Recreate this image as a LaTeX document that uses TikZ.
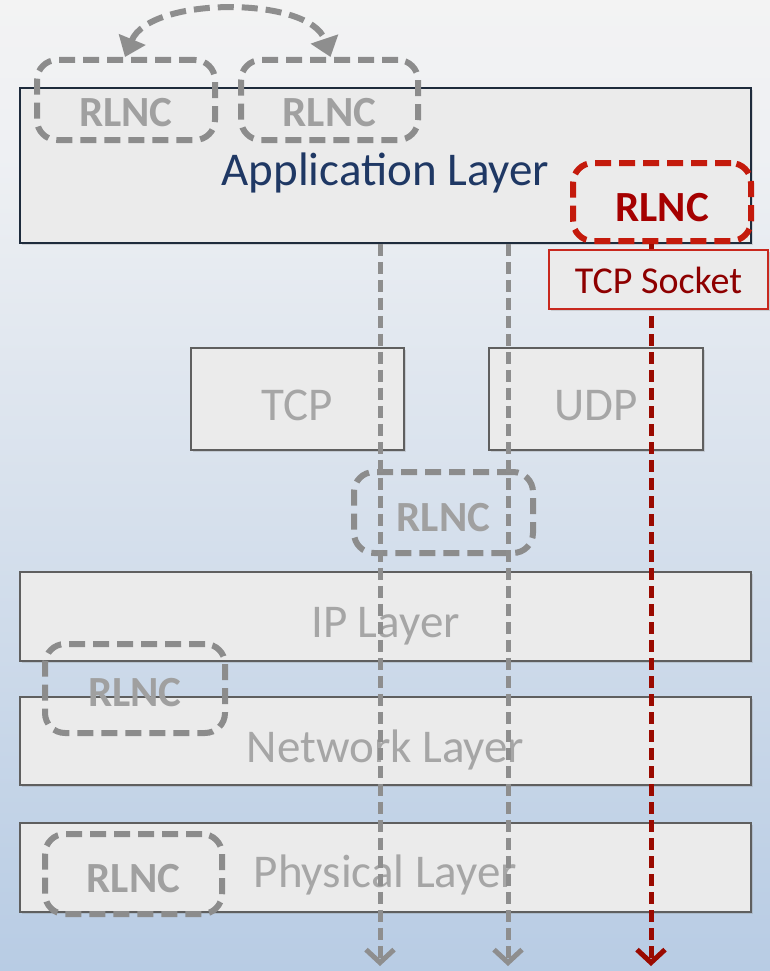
\documentclass[tikz,border=0pt]{standalone}
\usepackage{fontspec}
\setmainfont{Carlito}
\usetikzlibrary{arrows.meta,shadows}
\definecolor{bgtop}{HTML}{F3F3F3}
\definecolor{bgmid}{HTML}{EEF0F3}
\definecolor{bgbot}{HTML}{B8CCE4}
\definecolor{boxfill}{HTML}{EBEBEB}
\definecolor{boxborder}{HTML}{5F5F5F}
\definecolor{appborder}{HTML}{1E2B3C}
\definecolor{apptext}{HTML}{1F3864}
\definecolor{laytext}{HTML}{A6A6A6}
\definecolor{rlncgray}{HTML}{8C8C8C}
\definecolor{rlnctext}{HTML}{A0A0A0}
\definecolor{rlncred}{HTML}{C41A0C}
\definecolor{rlncredtext}{HTML}{A50000}
\definecolor{sockborder}{HTML}{C8281E}
\definecolor{socktext}{HTML}{8E0000}
\definecolor{arrowgray}{HTML}{8E8E8E}
\definecolor{arrowred}{HTML}{9A0A00}
\pgfdeclareverticalshading{bgshade}{100bp}{color(0bp)=(bgbot); color(25bp)=(bgbot); color(67bp)=(bgmid); color(75bp)=(bgtop); color(100bp)=(bgtop)}
% text lowered so that its baseline sits #1 below the node centre
\newcommand{\lowtxt}[2]{\raisebox{-#1}[0pt][0pt]{#2}}
\begin{document}
\begin{tikzpicture}[x=1pt,y=-1pt,
  layerbox/.style={draw=boxborder, line width=1.6pt, fill=boxfill, inner sep=0pt, text=laytext,
    font=\fontsize{47}{56}\selectfont,
    drop shadow={opacity=0.25, shadow xshift=1.5pt, shadow yshift=-2pt}},
  rlncbox/.style={draw=rlncgray, line width=6pt, dash pattern=on 16pt off 8pt, rounded corners=20pt,
    inner sep=0pt, text=rlnctext, font=\bfseries\fontsize{43}{50}\selectfont},
  rlncredbox/.style={rlncbox, draw=rlncred, text=rlncredtext},
  socketbox/.style={draw=sockborder, line width=1.6pt, fill=boxfill, inner sep=0pt, text=socktext,
    font=\fontsize{38}{44}\selectfont,
    drop shadow={opacity=0.25, shadow xshift=1.5pt, shadow yshift=-2pt}},
  grayarrow/.style={draw=arrowgray, line width=5pt, dash pattern=on 12pt off 6pt,
    -{Straight Barb[length=13pt,width=28pt,line width=5pt]}},
  redarrow/.style={grayarrow, draw=arrowred},
  toparrow/.style={draw=arrowgray, line width=6pt, dash pattern=on 16pt off 8pt,
    {Triangle[length=19pt,width=28pt]}-{Triangle[length=19pt,width=28pt]}}
]
\fill[shading=bgshade] (0,0) rectangle (770,971);
\useasboundingbox (0,0) rectangle (770,971);

% layers
\node[layerbox, draw=appborder, text=apptext, minimum width=731pt, minimum height=155pt] (app) at (385.5,165.5) {\lowtxt{19.5pt}{Application Layer}};
\node[layerbox, minimum width=213pt, minimum height=102pt] (tcp) at (297.5,399) {\lowtxt{21pt}{TCP}};
\node[layerbox, minimum width=214pt, minimum height=102pt] (udp) at (596,399) {\lowtxt{21pt}{UDP}};
\node[layerbox, minimum width=731pt, minimum height=89pt] (ip) at (385.5,616.5) {\lowtxt{20.5pt}{IP Layer}};
\node[layerbox, minimum width=731pt, minimum height=88pt] (net) at (385.5,741) {\lowtxt{21pt}{Network Layer}};
\node[layerbox, minimum width=731pt, minimum height=89pt] (phy) at (385.5,867.5) {\lowtxt{19.5pt}{Physical Layer}};

% RLNC boxes
\node[rlncbox, minimum width=178pt, minimum height=80pt] (rl1) at (126,100) {\lowtxt{26pt}{RLNC}};
\node[rlncbox, minimum width=177pt, minimum height=80pt] (rl2) at (329.5,100) {\lowtxt{26pt}{RLNC}};
\node[rlncredbox, minimum width=178pt, minimum height=78pt] (rlr) at (662,202) {\lowtxt{19pt}{RLNC}};
\node[rlncbox, minimum width=179pt, minimum height=81pt] (rlm) at (443.5,512.5) {\lowtxt{19pt}{RLNC}};
\node[rlncbox, minimum width=180pt, minimum height=89pt] (rln) at (135,688.5) {\lowtxt{18pt}{RLNC}};
\node[rlncbox, minimum width=177pt, minimum height=80pt] (rlp) at (133.5,874) {\lowtxt{18pt}{RLNC}};

% top curved arrow
\draw[toparrow] ([xshift=-1pt]rl1.north) .. controls (150,-4) and (310,-4) .. ([xshift=1pt]rl2.north);

% downward arrows
\coordinate (g1) at (380,966);
\coordinate (g2) at (508,966);
\coordinate (r1) at (651,966);
\draw[grayarrow] (app.south -| g1) -- (g1);
\draw[grayarrow] (app.south -| g2) -- (g2);
\draw[redarrow] (rlr.south -| r1) -- (r1);

% TCP socket
\node[socketbox, minimum width=219pt, minimum height=59pt] (sock) at (658.5,279.5) {\lowtxt{13.5pt}{TCP Socket}};
\end{tikzpicture}
\end{document}
